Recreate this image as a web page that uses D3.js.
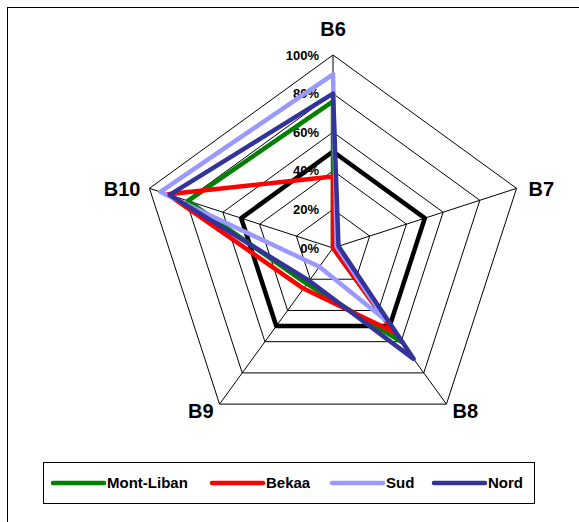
<!DOCTYPE html>
<html>
<head>
<meta charset="utf-8">
<script src="https://cdn.jsdelivr.net/npm/d3@7"></script>
<style>
  html, body { margin: 0; padding: 0; background: #fff; }
  svg { display: block; font-family: "Liberation Sans", Arial, Helvetica, sans-serif; }
</style>
</head>
<body>
<svg id="chart" width="579" height="522"></svg>
<script>
// Axes of the radar, clockwise from the top
const axes = ["B6", "B7", "B8", "B9", "B10"];
// Radial ticks (percent)
const ticks = [0, 20, 40, 60, 80, 100];
const tickLabels = ["0%", "20%", "40%", "60%", "80%", "100%"];

// Series values, in percent, in the order of the axes
const reference = [50, 50, 50, 50, 50];
const montLiban = [76, 0, 60, 23, 79];
const bekaa     = [37, 0, 54, 26, 90];
const sud       = [90, 2, 46, 12, 94];
const nord      = [80, 3, 71, 21, 89];

const seriesNames  = ["Mont-Liban", "Bekaa", "Sud", "Nord"];
const seriesValues = [montLiban, bekaa, sud, nord];
const seriesColors = ["#008000", "#ff0000", "#9999ff", "#333399"];

const svg = d3.select("#chart");
const cx = 333, cy = 248, R = 193;

const r = d3.scaleLinear().domain([0, 100]).range([0, R]);
const angle = d3.scalePoint().domain(axes).range([0, 360 * (axes.length - 1) / axes.length]);

function pt(axis, v) {
  const a = angle(axis) * Math.PI / 180;
  return [cx + r(v) * Math.sin(a), cy - r(v) * Math.cos(a)];
}

// Outer frame
svg.append("rect")
  .attr("x", 7.5).attr("y", 7.5)
  .attr("width", 700).attr("height", 700)
  .attr("fill", "none").attr("stroke", "#000").attr("stroke-width", 1);

const grid = svg.append("g");

// Concentric rings
const ringLine = d3.line().curve(d3.curveLinearClosed);
ticks.filter(t => t > 0).forEach(t => {
  grid.append("path")
    .attr("d", ringLine(axes.map(a => pt(a, t))))
    .attr("fill", "none").attr("stroke", "#000").attr("stroke-width", 1);
});

// Spokes
axes.forEach(a => {
  const [x, y] = pt(a, 100);
  grid.append("line")
    .attr("x1", cx).attr("y1", cy).attr("x2", x).attr("y2", y)
    .attr("stroke", "#000").attr("stroke-width", 1);
});

// Radial tick labels along the first axis
svg.append("g").selectAll("text")
  .data(ticks)
  .join("text")
  .attr("x", cx - 14)
  .attr("y", d => pt(axes[0], d)[1])
  .attr("dy", "0.36em")
  .attr("text-anchor", "end")
  .attr("font-size", 13)
  .attr("font-weight", "bold")
  .text((d, i) => tickLabels[i]);

// Axis names
const axisLabelPos = {
  "B6":  { dx: 0,   dy: -26, anchor: "middle" },
  "B7":  { dx: 12,  dy: 0,   anchor: "start" },
  "B8":  { dx: 6,   dy: 7,   anchor: "start" },
  "B9":  { dx: -6,  dy: 7,   anchor: "end" },
  "B10": { dx: -9,  dy: 0,   anchor: "end" }
};
svg.append("g").selectAll("text")
  .data(axes)
  .join("text")
  .attr("x", d => pt(d, 100)[0] + axisLabelPos[d].dx)
  .attr("y", d => pt(d, 100)[1] + axisLabelPos[d].dy)
  .attr("dy", "0.36em")
  .attr("text-anchor", d => axisLabelPos[d].anchor)
  .attr("font-size", 20)
  .attr("font-weight", "bold")
  .text(d => d);

// Series polygons
const polyLine = d3.line().curve(d3.curveLinearClosed);
const plots = svg.append("g").attr("fill", "none")
  .attr("stroke-linejoin", "round").attr("stroke-linecap", "round");

plots.append("path")
  .attr("d", polyLine(axes.map((a, i) => pt(a, reference[i]))))
  .attr("stroke", "#000").attr("stroke-width", 4.5);

seriesValues.forEach((vals, k) => {
  plots.append("path")
    .attr("d", polyLine(axes.map((a, i) => pt(a, vals[i]))))
    .attr("stroke", seriesColors[k]).attr("stroke-width", 4.5);
});

// Legend
const legend = svg.append("g");
legend.append("rect")
  .attr("x", 43.5).attr("y", 462.5).attr("width", 491).attr("height", 41)
  .attr("fill", "#fff").attr("stroke", "#000").attr("stroke-width", 1);

const legendX = [53, 212, 332, 434];
seriesNames.forEach((name, k) => {
  const g = legend.append("g").attr("transform", `translate(${legendX[k]},483)`);
  g.append("line")
    .attr("x1", 0).attr("x2", 51).attr("y1", 0).attr("y2", 0)
    .attr("stroke", seriesColors[k]).attr("stroke-width", 4.5)
    .attr("stroke-linecap", "round");
  g.append("text")
    .attr("x", 54).attr("y", 0).attr("dy", "0.36em")
    .attr("font-size", 15).attr("font-weight", "bold")
    .text(name);
});
</script>
</body>
</html>
